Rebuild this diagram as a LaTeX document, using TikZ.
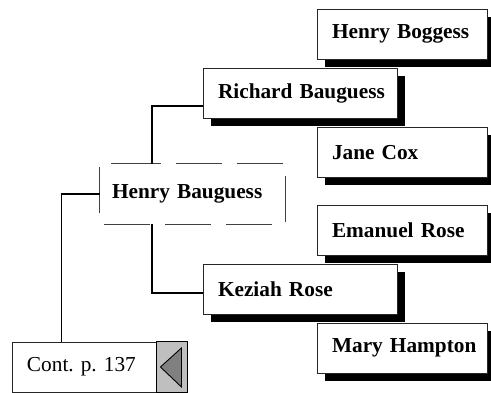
\documentclass[tikz,border=0pt]{standalone}
\usepackage{fontspec}
\setmainfont{Liberation Serif}
\frenchspacing
\usetikzlibrary{shadows}

\begin{document}
\begin{tikzpicture}[x=1pt,y=1pt]
  \tikzset{person/.style = {shape=rectangle,draw=black!85,line width=0.9pt,fill=white,
      minimum width=170pt,minimum height=50pt,text width=154pt,inner xsep=8pt,align=left,
      execute at begin node={\hspace*{7pt}},
      font=\fontsize{21.3}{24}\selectfont\bfseries,
      drop shadow={shadow xshift=8pt,shadow yshift=-8pt,fill=black,opacity=1}}}
  \tikzset{wide/.style = {minimum width=194pt,text width=178pt}}
  \tikzset{link/.style = {line width=1.4pt}}
  \useasboundingbox (0,0) rectangle (491,393);

	% grandparents
	\node[person] (HBo) at (402,359) {Henry Boggess};
	\node[person,wide] (RB) at (300,300) {Richard Bauguess};
	\node[person] (JC) at (402,240.5) {Jane Cox};
	\node[person] (ER) at (402,162.5) {Emanuel Rose};
	\node[person,wide] (KR) at (300,103.5) {Keziah Rose};
	\node[person] (MH) at (402,45) {Mary Hampton};
	
	% root person
	\node[minimum width=185pt,minimum height=60pt,text width=161pt,inner xsep=12pt,align=left,
	  font=\fontsize{21.3}{24}\selectfont\bfseries] (HB) at (192.5,199) {Henry Bauguess};
	\draw[black!75,line width=0.9pt,dash pattern=on 46pt off 15pt]
	  ([xshift=15pt]HB.north west) -- (HB.north east) -- (HB.south east)
	  -- (HB.south west) -- (HB.north west) -- cycle;
	
	% continuation box
	\node[draw=black!85,line width=0.9pt,minimum width=175pt,minimum height=50pt,text width=145pt,
	  inner xsep=15pt,align=left,font=\fontsize{21.3}{24}\selectfont] (C) at (99.5,26) {Cont. p. 137};
	\draw[line width=0.9pt,fill=black!25] ([xshift=-31pt]C.north east) rectangle (C.south east);
	\draw[line width=0.9pt,fill=black!50] ([xshift=-27pt]C.east) -- ([xshift=-6pt,yshift=19pt]C.east)
	  -- ([xshift=-6pt,yshift=-20pt]C.east) -- cycle;
	
	\draw[link] ([yshift=-13pt]RB.west) -| ([xshift=52pt]HB.north west);
	\draw[link] ([xshift=52pt]HB.south west) |- ([yshift=-3.5pt]KR.west);
	\draw[link] (HB.west) -| ([xshift=50pt]C.north west);
\end{tikzpicture}
\end{document}
